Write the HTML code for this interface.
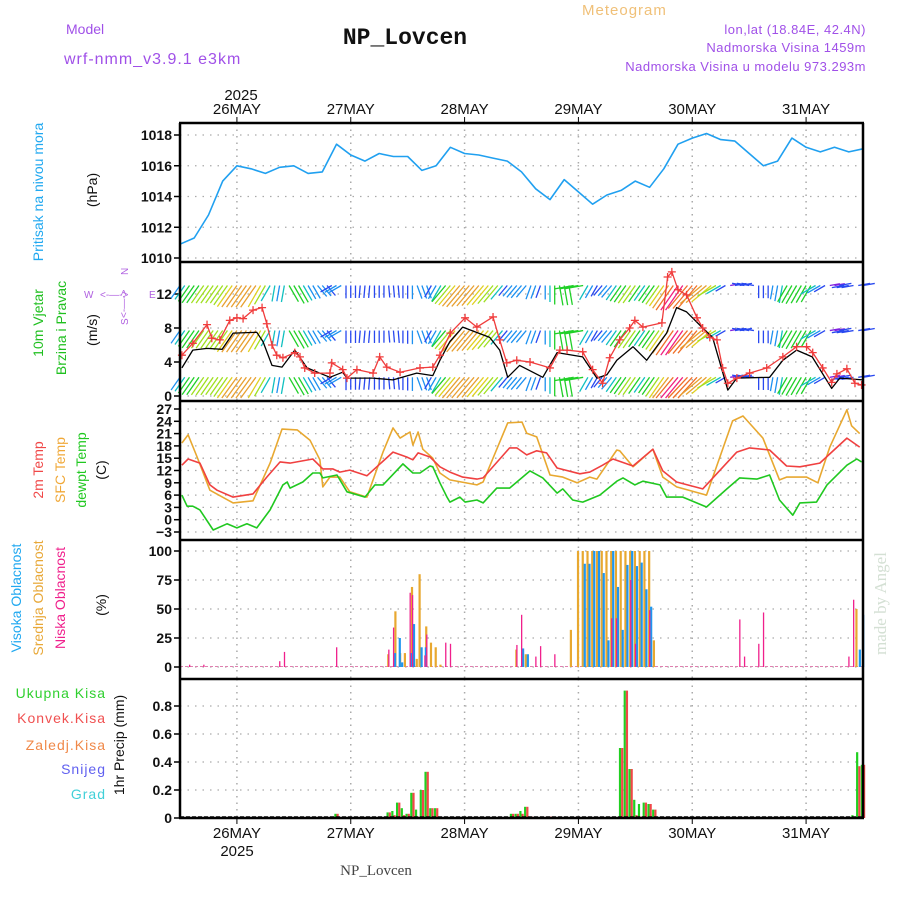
<!DOCTYPE html>
<html><head><meta charset="utf-8"><style>
body{margin:0;background:#fff}
svg{display:block;font-family:"Liberation Sans",sans-serif}
</style></head><body>
<svg id="chart" width="900" height="900" viewBox="0 0 900 900" xmlns="http://www.w3.org/2000/svg">
<rect width="900" height="900" fill="#fff"/>
<g id="texts">
<text x="66" y="34" font-size="14" fill="#a050e8">Model</text>
<text x="64" y="64" font-size="16" fill="#a050e8" letter-spacing="1">wrf-nmm_v3.9.1 e3km</text>
<text x="405" y="44" font-size="23" font-weight="bold" text-anchor="middle" fill="#111" font-family="Liberation Mono, monospace">NP_Lovcen</text>
<text x="582" y="15" font-size="15" fill="#f0c078" letter-spacing="1">Meteogram</text>
<text x="866" y="34" font-size="13" fill="#a050e8" text-anchor="end" letter-spacing="0.5">lon,lat (18.84E, 42.4N)</text>
<text x="866" y="52" font-size="13" fill="#a050e8" text-anchor="end" letter-spacing="0.5">Nadmorska Visina 1459m</text>
<text x="866" y="71" font-size="13" fill="#a050e8" text-anchor="end" letter-spacing="0.5">Nadmorska Visina u modelu 973.293m</text>
<text x="241" y="100" font-size="15" text-anchor="middle" fill="#111">2025</text>
<text x="237" y="856" font-size="15" text-anchor="middle" fill="#111">2025</text>
<text x="376" y="875" font-size="15" text-anchor="middle" fill="#444" font-family="Liberation Serif, serif">NP_Lovcen</text>
<text transform="translate(886,655) rotate(-90)" font-size="17" fill="#d4e0d4" font-family="Liberation Serif, serif">made by Angel</text>
<text transform="translate(43,192) rotate(-90)" font-size="14" fill="#20a8f0" text-anchor="middle">Pritisak na nivou mora</text>
<text transform="translate(97,190) rotate(-90)" font-size="14" fill="#111" text-anchor="middle">(hPa)</text>
<text transform="translate(43,323) rotate(-90)" font-size="14" fill="#20c020" text-anchor="middle">10m Vjetar</text>
<text transform="translate(66,328) rotate(-90)" font-size="14" fill="#20c020" text-anchor="middle">Brzina i Pravac</text>
<text transform="translate(97,330) rotate(-90)" font-size="14" fill="#111" text-anchor="middle">(m/s)</text>
<g fill="#b060e0" font-size="10">
<text x="84" y="298">W</text><text x="149" y="298">E</text>
<text transform="translate(128,275) rotate(-90)">N</text><text transform="translate(128,325) rotate(-90)">S</text>
<text x="100" y="298">&lt;-—-&gt;</text>
<text transform="translate(127,318) rotate(-90)">&lt;-—-&gt;</text>
</g>
<text transform="translate(43,470) rotate(-90)" font-size="14" fill="#f04848" text-anchor="middle">2m Temp</text>
<text transform="translate(65,470) rotate(-90)" font-size="14" fill="#f0a838" text-anchor="middle">SFC Temp</text>
<text transform="translate(86,470) rotate(-90)" font-size="14" fill="#20c820" text-anchor="middle">dewpt Temp</text>
<text transform="translate(106,470) rotate(-90)" font-size="14" fill="#111" text-anchor="middle">(C)</text>
<text transform="translate(21,598) rotate(-90)" font-size="14" fill="#20a8f0" text-anchor="middle">Visoka Oblacnost</text>
<text transform="translate(43,598) rotate(-90)" font-size="14" fill="#e8a838" text-anchor="middle">Srednja Oblacnost</text>
<text transform="translate(65,598) rotate(-90)" font-size="14" fill="#f0208c" text-anchor="middle">Niska Oblacnost</text>
<text transform="translate(106,605) rotate(-90)" font-size="14" fill="#111" text-anchor="middle">(%)</text>
<text x="106" y="698" font-size="14" fill="#30d030" text-anchor="end" letter-spacing="1">Ukupna Kisa</text>
<text x="106" y="723" font-size="14" fill="#f05050" text-anchor="end" letter-spacing="1">Konvek.Kisa</text>
<text x="106" y="750" font-size="14" fill="#f08848" text-anchor="end" letter-spacing="1">Zaledj.Kisa</text>
<text x="106" y="774" font-size="14" fill="#6060f0" text-anchor="end" letter-spacing="1">Snijeg</text>
<text x="106" y="799" font-size="14" fill="#40d0d8" text-anchor="end" letter-spacing="1">Grad</text>
<text transform="translate(124,745) rotate(-90)" font-size="14" fill="#111" text-anchor="middle">1hr Precip (mm)</text>
</g>
<g id="plot"></g>
</svg>
<script>
// ---- data ----
const dayLabels = ["26MAY","27MAY","28MAY","29MAY","30MAY","31MAY"];
const pressHours = [0,3,6,9,12,15,18,21,24,27,30,33,36,39,42,45,48,51,54,57,60,63,66,69,72,75,78,81,84,87,90,93,96,99,102,105,108,111,114,117,120,123,126,129,132,135,138,141,144];
const pressVals = [1010.9,1011.3,1012.8,1015.0,1016.0,1015.8,1015.5,1015.9,1016.0,1015.5,1015.6,1017.4,1016.7,1016.3,1016.8,1016.6,1016.6,1015.7,1016.0,1017.2,1016.8,1016.7,1016.5,1016.3,1015.6,1014.5,1013.8,1015.1,1014.3,1013.5,1014.1,1014.4,1015.0,1014.6,1015.8,1017.4,1017.8,1018.1,1017.7,1017.6,1016.8,1016.0,1016.3,1017.8,1017.2,1016.9,1017.2,1016.9,1017.1];
const gustHours = [0.4,2.7,5.7,6.7,8.4,10.5,12,13.3,15.4,17.3,18.3,19.4,20.4,21.7,24.2,25.3,26.3,28.4,31.6,32,34.3,35.2,37.3,40.7,42.1,43.6,46.4,50.6,53.3,54.8,57,60.1,62.6,66,67.4,68.9,71,73.8,78,80.1,81.6,84.9,87,89.1,90.6,92.7,94.8,95.9,97.6,101.6,102.8,103.7,105,106.8,109,110.2,111.7,113.2,114.4,115.5,117.4,120.1,123.7,127.1,130,132.1,133.4,135.5,137.4,138.5,140.6,142.3,143.7];
const gustVals = [4.8,6.2,8.4,6.8,6.6,8.9,9.2,9.1,10.1,10.4,8.5,6.0,4.8,4.5,5.1,4.6,3.3,2.7,2.7,3.9,3.1,2.1,3.1,2.7,4.6,3.4,2.8,3.3,3.4,4.8,7.4,9.2,8.1,9.3,6.6,3.9,4.2,4.0,3.3,5.4,5.4,5.2,3.1,1.5,4.5,6.6,8.0,8.9,8.1,8.6,14.0,14.6,12.5,11.9,9.2,8.0,6.9,6.6,3.3,1.5,2.1,2.7,3.3,4.6,5.8,5.8,5.1,3.3,1.6,2.6,3.2,1.5,1.3];
const windHours = [0.4,2.7,5.7,8.9,11.2,16.2,17.5,19.4,21.5,24.2,26.8,31.6,34.3,35.2,37.9,40.7,44.9,49.9,53.3,54.8,56.9,59.6,65.3,67.4,69.1,71.6,76.5,79.5,84.9,87.9,90,92.1,95.5,98.4,102.6,104.7,106.8,110.2,112.3,115.5,117.4,124.3,127.1,130,133.3,137.4,139.1,144];
const windVals = [3.3,5.4,5.6,5.5,7.4,7.5,6.4,3.6,3.4,5.4,3.3,2.2,2.8,2.1,2.1,2.1,1.9,2.7,2.4,4.2,6.4,8.1,6.9,5.4,2.2,3.6,2.2,5.1,4.6,2.1,2.5,4.2,5.8,4.2,7.4,10.4,9.9,8.0,6.9,0.7,2.1,2.2,4.2,5.4,4.6,0.9,2.1,1.9];
const windDir = [35,35,35,35,35,35,30,10,-30,-30,-40,60,0,5,0,-5,0,-20,30,40,40,40,40,40,40,20,0,-10,80,30,40,35,35,35,35,35,40,50,60,-100,100,0,10,30,30,60,-100,80,-100];
const t2mHours = [0.4,1.7,4.2,6.3,7.8,11.2,15.4,18.3,21.1,23.2,28,30.1,32.2,33.7,35.8,39.4,44.9,47.8,49.1,50.2,52.7,54.8,56.9,59.6,62.6,63.9,69.5,71,73.1,75.2,77.3,79.5,84.3,86.4,89.1,91.3,95.5,99.7,101.8,104.7,110.2,117.4,120.1,124.3,127.9,130.7,134.9,140.6,143.3];
const t2mVals = [13.3,14.8,13.8,8.5,7.2,5.5,6.3,10.4,14.1,13.8,14.8,12.4,12.4,11.6,12.1,10.7,16.5,15.3,14.6,16.3,15.3,12.9,11.6,10.4,9.9,10.2,17.5,17.5,15.8,16.8,16.3,12.6,11.2,11.6,13.3,14.8,13.1,17.2,11.9,9.2,7.5,16.5,17.5,17.0,13.1,12.9,13.8,19.9,17.7];
const sfcHours = [0.4,1.7,3.6,6.3,11.2,15.4,19,21.5,24.7,27.4,29.5,30.1,31.6,33.7,35.8,39.4,42.8,44.9,46.4,48.5,49.1,50.2,51.2,53.3,54.8,56.9,62.6,63.9,69.1,72.1,73.1,75.2,78,80.7,83.7,86.4,87.9,92.1,92.7,95.5,99.7,101.8,104.7,111,116.5,118.7,122.9,126.4,127.9,132.1,134.5,137,140.6,141.6,143.3];
const sfcVals = [18.7,20.7,15.3,7.2,4.1,4.6,13.8,22.1,21.9,19.4,14.6,8.0,10.4,10.4,6.8,5.5,16.5,22.4,19.9,21.4,18.2,21.4,17.2,15.0,11.4,9.7,8.5,9.2,23.6,23.8,21.1,20.2,10.9,10.4,9.0,10.4,9.9,17.0,16.8,12.9,17.2,10.4,8.0,6.0,24.1,25.3,19.9,9.7,10.4,10.4,9.0,17.7,26.8,22.9,21.0];
const dewHours = [0.4,1.5,2.7,4.2,7,9.9,12,14.1,16.2,19,21.7,22.6,23.2,25.9,28,29.5,30.1,33.1,35.2,39,41.1,42.8,47,49.1,50.6,52.7,53.3,54.8,56.3,56.9,59,60.1,62.6,63.9,66.8,69.5,73.8,76.5,79.5,80.7,82.8,84.9,88.5,92.1,93.4,95.9,97.6,101.2,102.6,106,111,115.3,118,121.6,124.3,126.4,129.2,130.7,134.2,136.4,140.6,142.7,143.7];
const dewVals = [6.0,3.3,3.3,2.4,-2.5,-1.0,-2.0,-1.0,-2.0,2.4,8.5,9.2,7.7,9.2,11.4,11.4,10.2,10.9,6.8,5.5,8.5,8.5,13.6,11.4,11.4,13.1,12.9,9.0,5.5,4.3,5.5,4.3,4.8,4.1,7.7,7.7,11.9,10.2,6.5,7.5,4.8,4.3,6.0,9.4,10.2,8.5,9.4,8.5,5.5,5.5,3.1,7.5,10.2,9.9,10.9,4.8,1.1,4.1,4.3,8.5,13.3,14.8,14.1];
const lowCloudHours = [2,5,21,22,33,44,45,48.5,49,51.6,52,56,57,71,72,75,76,79,91,92,95,96,99,118,119,122,123,141,142];
const lowCloudVals = [2,2,5,13,17,15,34,64,62,10,28,21,20,19,45,9,18,11,42,42,75,20,49,41,9,20,47,9,58];
const midCloudHours = [44,45.5,46.5,47.5,49,50,50.6,52,53,54,55,71,73,82.5,84,85,86,87,88,89,90,91,92,93,94,95,96,97,98,99,100,142.7];
const midCloudVals = [11,48,12,12,69,7,80,35,21,17,2,15,11,32,100,100,100,100,100,100,100,100,100,100,100,100,100,100,100,100,23,50];
const highCloudHours = [45,46,46.5,48.5,49,50.6,51.5,72,73,85,86,87,88,89,90,91,92,93,94,95,96,97,98,99,143,143.7];
const highCloudVals = [12,25,4,12,37,17,17,16,11,89,89,100,100,81,23,100,69,32,88,100,87,90,67,52,15,45];
const precipHours = [33,44,45,46,47,48,49,50,51,52,53,54,70,71,72,73,74,78,93,94,95,96,97,98,99,100,142,143,144];
const totalPrecip = [0.03,0.04,0.05,0.11,0.07,0.03,0.18,0.06,0.2,0.33,0.07,0.07,0.03,0.03,0.05,0.08,0.01,0.01,0.5,0.91,0.35,0.13,0.1,0.11,0.1,0.06,0.02,0.47,0.38];
const convPrecip = [0.03,0.04,0.02,0.11,0.02,0.03,0.18,0.01,0.2,0.33,0.07,0.07,0.03,0.03,0.03,0.08,0.01,0.01,0.5,0.91,0.35,0.02,0.01,0.11,0.1,0.06,0.0,0.37,0.38];
const pressTicks = [1010,1012,1014,1016,1018];
const windTicks = [0,4,8,12];
const tempTicks = [-3,0,3,6,9,12,15,18,21,24,27];
const cloudTicks = [0,25,50,75,100];
const precipTicks = [0,0.2,0.4,0.6,0.8];

// ---- scales ----
const NS="http://www.w3.org/2000/svg";
const plot=document.getElementById('plot');
const X0=180,X1=863;
const xs=h=>X0+h*(X1-X0)/144;
function lin(v0,y0,v1,y1){return v=>y0+(v-v0)*(y1-y0)/(v1-v0);}
const yP=lin(1010,258,1018,135);
const yW=lin(0,396,12,294);
const yT=lin(-3,532,27,409);
const yC=lin(0,667,100,551);
const yR=lin(0,818,0.8,706);
function el(tag,attrs,parent){const e=document.createElementNS(NS,tag);for(const k in attrs)e.setAttribute(k,attrs[k]);(parent||plot).appendChild(e);return e;}
function interp(hs,vs,h){if(h<=hs[0])return vs[0];for(let i=1;i<hs.length;i++){if(h<=hs[i]){const t=(h-hs[i-1])/(hs[i]-hs[i-1]);return vs[i-1]+t*(vs[i]-vs[i-1]);}}return vs[vs.length-1];}

const panels=[
 {name:'pressure',top:123,bot:262,ticks:pressTicks,f:yP,fmt:v=>v},
 {name:'wind',top:262,bot:401,ticks:windTicks,f:yW,fmt:v=>v},
 {name:'temperature',top:401,bot:540,ticks:tempTicks,f:yT,fmt:v=>v<0?'−'+(-v):v},
 {name:'cloud',top:540,bot:679,ticks:cloudTicks,f:yC,fmt:v=>v},
 {name:'precip',top:679,bot:818,ticks:precipTicks,f:yR,fmt:v=>v===0?'0':v.toFixed(1)}
];
panels.forEach(p=>{
 const g=el('g',{});
 
 
 p.ticks.forEach(t=>{
  const y=p.f(t);
  const ln=el('line',{x1:X0,x2:X1,y1:y,y2:y,stroke:'#aaa','stroke-width':1.3,'stroke-dasharray':'1.5,6'},g);
  
  
  const tk=el('line',{x1:X0-6,x2:X0,y1:y,y2:y,stroke:'#000','stroke-width':1.5},g);
  
  
  const tx=el('text',{x:X0-8,y:y+5,'text-anchor':'end','font-size':14,'font-weight':'bold',fill:'#111'},g);
  tx.textContent=p.fmt(t);
  
  
 });
 for(let d=0;d<6;d++){
  const x=xs(12+24*d);
  const v=el('line',{x1:x,x2:x,y1:p.top,y2:p.bot,stroke:'#aaa','stroke-width':1.5,'stroke-dasharray':'1.5,5'},g);
  
  
 }
});
dayLabels.forEach((d,i)=>{
 const x=xs(12+24*i);
 const t1=el('text',{x:x,y:114,'text-anchor':'middle','font-size':15,fill:'#111'});
 t1.textContent=d;
 
 
 el('line',{x1:x,x2:x,y1:117,y2:123,stroke:'#000','stroke-width':1});
 const t2=el('text',{x:x,y:838,'text-anchor':'middle','font-size':15,fill:'#111'});
 t2.textContent=d;
 
 
 el('line',{x1:x,x2:x,y1:818,y2:824,stroke:'#000','stroke-width':1});
});

function poly(hs,vs,f,color,name,w){
 const pts=hs.map((h,i)=>xs(h).toFixed(1)+','+f(vs[i]).toFixed(1)).join(' ');
 const p=el('polyline',{points:pts,fill:'none',stroke:color,'stroke-width':w||1.5,'stroke-linejoin':'round'});
 
 
 return p;
}
poly(pressHours,pressVals,yP,'#20a0f0','pressure-line',1.6);

function windColor(s){
 if(s<1.5)return '#8020e0';if(s<2.5)return '#2848f0';if(s<3.5)return '#1c90f0';if(s<4.5)return '#10c0c0';
 if(s<5.5)return '#20d028';if(s<6.5)return '#a0e020';if(s<7.3)return '#e0d020';if(s<8.5)return '#e8a030';if(s<10)return '#f07028';return '#f02080';
}
const wg=el('g',{});


const rows=[13,7.7,2.2];
for(let h=0;h<=144;h++){
 const s=interp(windHours,windVals,h);
 const a=windDir[Math.min(48,Math.round(h/3))]*Math.PI/180;
 const L=Math.min(30,7+s*2.6);
 const dx=-Math.sin(a)*L,dy=Math.cos(a)*L;
 rows.forEach(r=>{
  const x=xs(h),y=yW(r);
  const y2=Math.min(398,y+dy);
  const ln=el('line',{x1:x,y1:y,x2:x+dx,y2:y2,stroke:windColor(s),'stroke-width':1.3},wg);
  
  
 });
}
poly(windHours,windVals,yW,'#000','wind-speed-line',1.3);
poly(gustHours,gustVals,yW,'#f03c3c','wind-gust-line',1.3);
gustHours.forEach((h,i)=>{
 const x=xs(h),y=yW(gustVals[i]);
 const m=el('path',{d:`M${x-4},${y}H${x+4}M${x},${y-4}V${y+4}`,stroke:'#f03c3c','stroke-width':1.3,fill:'none'});
 
 
});
poly(sfcHours,sfcVals,yT,'#e8a830','sfc-temp-line',1.6);
poly(t2mHours,t2mVals,yT,'#f04040','temp-2m-line',1.6);
poly(dewHours,dewVals,yT,'#20c820','dewpoint-line',1.6);

const base=el('line',{x1:X0,x2:X1,y1:666.5,y2:666.5,stroke:'#e080b0','stroke-width':1,'stroke-dasharray':'3,2'});


function bars(hs,vs,f,color,off,w,name){
 hs.forEach((h,i)=>{
  const y=f(vs[i]),y0=f(0);
  const r=el('rect',{x:xs(h)+off,y:Math.min(y,y0),width:w,height:Math.max(0.5,Math.abs(y0-y)),fill:color});
  
  
 });
}
bars(midCloudHours,midCloudVals,yC,'#e8a830',-1.5,2.2,'mid-cloud-bar');
bars(highCloudHours,highCloudVals,yC,'#1e96f0',0.5,2.2,'high-cloud-bar');
bars(lowCloudHours,lowCloudVals,yC,'#f0208c',-0.5,1.3,'low-cloud-bar');
bars(precipHours,totalPrecip,yR,'#20d020',-2.2,2.2,'total-precip-bar');
bars(precipHours,convPrecip,yR,'#f04848',0,2.2,'convective-precip-bar');
const pb=el('line',{x1:X0,x2:X1,y1:817,y2:817,stroke:'#000','stroke-width':1.5,'stroke-dasharray':'4,2'});



const fr=el('g',{});


[123,262,401,540,679,818].forEach(y=>el('line',{x1:X0-1,x2:X1+1,y1:y,y2:y,stroke:'#000','stroke-width':2.5},fr));
el('line',{x1:X0,x2:X0,y1:123,y2:818,stroke:'#000','stroke-width':2.5},fr);
el('line',{x1:X1,x2:X1,y1:123,y2:818,stroke:'#000','stroke-width':2.5},fr);
</script>
</body></html>
